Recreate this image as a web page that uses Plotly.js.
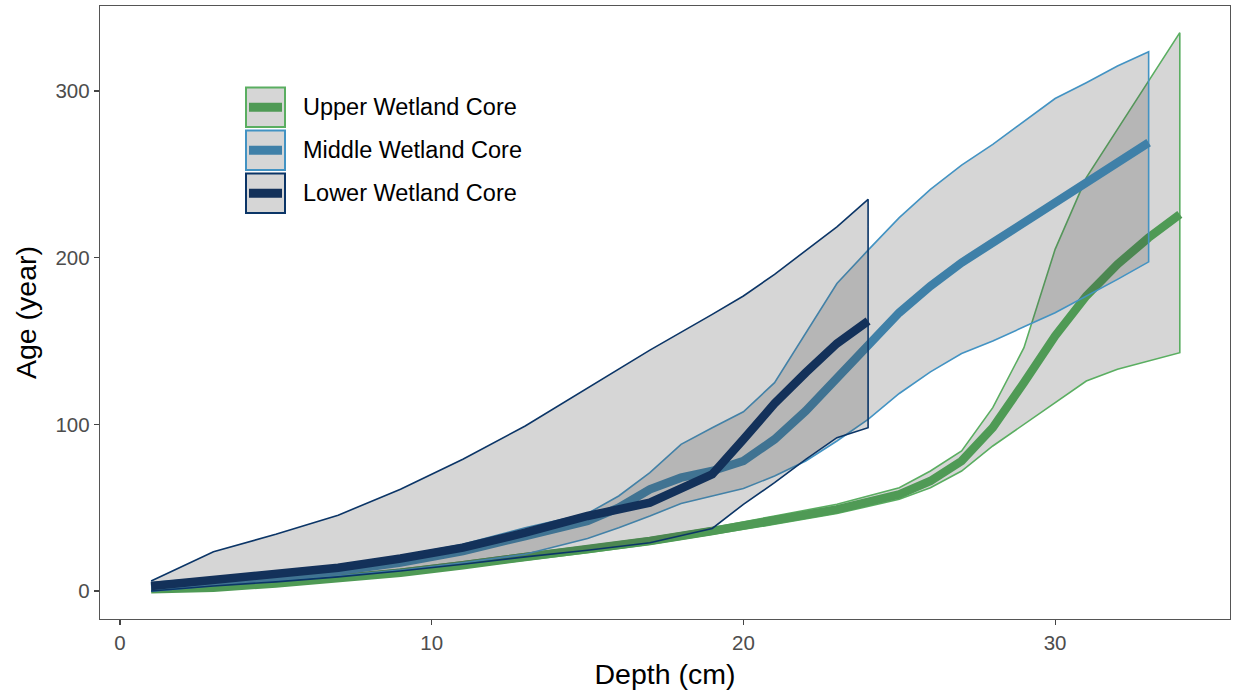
<!DOCTYPE html>
<html>
<head>
<meta charset="utf-8">
<script src="https://cdn.plot.ly/plotly-3.0.1.min.js"></script>
<style>
  html, body { margin: 0; padding: 0; background: #ffffff; }
  #chart { width: 1235px; height: 698px; }
</style>
</head>
<body>
<div id="chart"></div>
<script>
// ---- Data ----
const coreNames = ["Upper Wetland Core", "Middle Wetland Core", "Lower Wetland Core"];

const upperDepth = [1,3,5,7,9,11,13,15,17,19,21,23,25,26,27,28,29,30,31,32,33,34];
const upperAge   = [1,2,4.5,7.5,11,15.5,20,25,30,36,42,49,58,66,78,98,125,153,177,196,212,226];
const upperHigh  = [1,3,5.5,9,13,17.5,22.5,27,32,38,45,52,62,72,84,110,146,205,248,277,306,335];
const upperLow   = [0,1.5,4,7,10,14,18.5,23,28,34,40,46.5,55,62,72,87,100,113,126,133,138,143];

const middleDepth = [1,3,5,7,9,11,13,15,16,17,18,19,20,21,22,23,24,25,26,27,28,29,30,31,32,33];
const middleAge   = [2,5.5,8.5,12,17,24,33,42,50,61,68,72,78,91,108,128,147,167,183,197,209,221,233,246,258,269];
const middleHigh  = [5,8,11,15,21,28,38,46.5,57,71,88,98,107.5,125,154.5,184.5,204.5,224,241,255.5,268,282,295.5,305,315,323.5];
const middleLow   = [0,3.5,6,9,12.5,17,22,31.5,38,45,52.5,57,61.5,69,78,90,103,118.5,131.5,142.5,150,158.5,167,177,187,197.5];

const lowerDepth = [1,3,5,7,9,11,13,15,17,19,20,21,22,23,24];
const lowerAge   = [3,7,10,14,19.5,26,35,45,53,70,91,112.5,131,148.5,162];
const lowerHigh  = [6,23.5,34,45.5,61,79,99,122,144.5,166,177,190,204,218.5,235];
const lowerLow   = [0,3,5.5,8.5,12,16,20.5,24.5,29,37.5,52,65,79,92,98];

const xTickVals = [0,10,20,30];
const yTickVals = [0,100,200,300];

// ---- Styles ----
const outlineColors = ["#5aae61", "#4393c3", "#0b3567"];
const medianColors  = ["#4f9a55", "#3f80a8", "#13315a"];
const ribbonFill = "rgba(68,68,68,0.22)";
const FONT = "Liberation Sans, Arial, Helvetica, sans-serif";

function ribbon(x, hi, lo, color, name) {
  const px = x.concat(x.slice().reverse());
  const py = hi.concat(lo.slice().reverse());
  return {
    x: px, y: py, type: "scatter", mode: "lines", fill: "toself",
    fillcolor: ribbonFill, line: { color: color, width: 1.6 },
    name: name, showlegend: false, hoverinfo: "skip"
  };
}
function median(x, y, color, name) {
  return {
    x: x, y: y, type: "scatter", mode: "lines",
    line: { color: color, width: 8.5 },
    name: name, showlegend: false
  };
}

const traces = [
  ribbon(upperDepth, upperHigh, upperLow, outlineColors[0], coreNames[0]),
  median(upperDepth, upperAge, medianColors[0], coreNames[0]),
  ribbon(middleDepth, middleHigh, middleLow, outlineColors[1], coreNames[1]),
  median(middleDepth, middleAge, medianColors[1], coreNames[1]),
  ribbon(lowerDepth, lowerHigh, lowerLow, outlineColors[2], coreNames[2]),
  median(lowerDepth, lowerAge, medianColors[2], coreNames[2])
];

// ---- Legend (drawn as layout shapes/annotations) ----
const M = { l: 100, r: 5, t: 6, b: 79 };
const W = 1235, H = 698;
const pw = W - M.l - M.r, ph = H - M.t - M.b;
const pxX = p => (p - M.l) / pw;
const pxY = p => (H - M.b - p) / ph;

const shapes = [];
const annotations = [];
const boxTops = [87.5, 130.5, 173.5];
coreNames.forEach((nm, i) => {
  const top = boxTops[i], bot = top + 39.5;
  shapes.push({
    type: "rect", xref: "paper", yref: "paper",
    x0: pxX(246), x1: pxX(285), y0: pxY(bot), y1: pxY(top),
    fillcolor: ribbonFill, line: { color: outlineColors[i], width: 2 }
  });
  const mid = (top + bot) / 2;
  shapes.push({
    type: "line", xref: "paper", yref: "paper",
    x0: pxX(249), x1: pxX(282), y0: pxY(mid), y1: pxY(mid),
    line: { color: medianColors[i], width: 9 }
  });
  annotations.push({
    xref: "paper", yref: "paper", x: pxX(301), y: pxY(mid),
    xanchor: "left", yanchor: "middle", showarrow: false,
    text: nm, font: { family: FONT, size: 23.5, color: "#000000" }
  });
});

const layout = {
  width: W, height: H,
  margin: M,
  paper_bgcolor: "#ffffff", plot_bgcolor: "#ffffff",
  showlegend: false,
  font: { family: FONT },
  xaxis: {
    range: [-0.64, 35.61], tickvals: xTickVals, ticktext: xTickVals.map(String),
    showgrid: false, zeroline: false,
    showline: true, mirror: true, linecolor: "#555555", linewidth: 1.2,
    ticks: "outside", ticklen: 5, tickwidth: 1.2, tickcolor: "#444444",
    tickfont: { family: FONT, size: 20.5, color: "#4d4d4d" },
    title: { text: "Depth (cm)", font: { family: FONT, size: 28.5, color: "#000000" }, standoff: 11 },
    automargin: false
  },
  yaxis: {
    range: [-16.8, 351], tickvals: yTickVals, ticktext: yTickVals.map(String),
    showgrid: false, zeroline: false,
    showline: true, mirror: true, linecolor: "#555555", linewidth: 1.2,
    ticks: "outside", ticklen: 5, tickwidth: 1.2, tickcolor: "#444444",
    tickfont: { family: FONT, size: 20.5, color: "#4d4d4d" },
    title: { text: "Age (year)", font: { family: FONT, size: 28.5, color: "#000000" }, standoff: 10 },
    automargin: false
  },
  shapes: shapes,
  annotations: annotations
};

Plotly.newPlot("chart", traces, layout, { staticPlot: true, displayModeBar: false });
</script>
</body>
</html>
